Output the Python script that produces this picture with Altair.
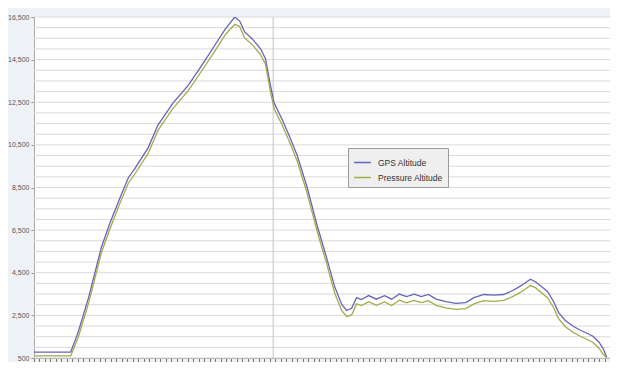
import altair as alt
import pandas as pd

# sample index along the flight
sample = [0, 6.7, 8.1, 10.0, 12.3, 13.9, 15.7, 17.2, 18.5, 20.8, 22.6, 25.3, 28.1, 30.8,
          32.9, 34.9, 36.6, 37.5, 38.4, 39.8, 41.3, 42.2, 43.1, 43.8, 45.3, 46.7, 48.0,
          49.8, 51.6, 53.4, 54.8, 56.1, 57.0, 57.9, 58.8, 59.7, 61.0, 62.4, 63.9, 65.2,
          66.6, 67.9, 69.3, 70.6, 71.9, 73.3, 75.1, 76.9, 78.7, 80.2, 82.0, 83.8, 85.6,
          86.9, 88.2, 89.2, 90.5, 91.4, 92.5, 93.6, 94.7, 95.6, 96.8, 98.3, 99.6, 100.8,
          101.9, 103.0, 103.7, 104.4]
gps_alt = [780, 780, 1750, 3380, 5710, 6870, 8030, 8960, 9430, 10360, 11430, 12450, 13290,
           14310, 15150, 15940, 16500, 16310, 15800, 15470, 15010, 14540, 13290, 12450,
           11660, 10820, 9990, 8500, 6730, 5150, 3850, 3010, 2730, 2830, 3330, 3240, 3430,
           3260, 3420, 3260, 3500, 3380, 3500, 3380, 3480, 3260, 3150, 3060, 3100, 3330,
           3480, 3450, 3480, 3620, 3800, 3960, 4200, 4080, 3850, 3620, 3150, 2640, 2270,
           1990, 1800, 1660, 1520, 1240, 965, 546]
pressure_alt = [600, 600, 1500, 3120, 5450, 6600, 7780, 8700, 9180, 10100, 11180, 12200,
                13030, 14060, 14880, 15680, 16160, 16050, 15520, 15200, 14730, 14280, 13000,
                12180, 11400, 10560, 9720, 8230, 6460, 4880, 3560, 2720, 2450, 2520, 3040,
                2960, 3140, 2970, 3130, 2960, 3210, 3090, 3200, 3100, 3190, 2970, 2850, 2780,
                2820, 3040, 3190, 3160, 3200, 3340, 3510, 3670, 3900, 3800, 3560, 3330, 2870,
                2360, 1980, 1700, 1520, 1380, 1230, 960, 700, 500]

series_names = ["GPS Altitude", "Pressure Altitude"]
series_colors = ["#6464b8", "#a2ac4a"]

y_ticks = [500, 2500, 4500, 6500, 8500, 10500, 12500, 14500, 16500]
grid_values = list(range(500, 16501, 500))
x_ticks = list(range(0, 106))
marker_sample = [43.6]

df = pd.DataFrame({"sample": sample, series_names[0]: gps_alt, series_names[1]: pressure_alt})
long = df.melt("sample", var_name="series", value_name="alt")

xs = alt.Scale(domain=[0, 105], nice=False, zero=False)
ys = alt.Scale(domain=[500, 16500], nice=False, zero=False)

x_axis = alt.Axis(values=x_ticks, labels=False, title=None, grid=False,
                  tickSize=4, tickColor="#777777", domainColor="#999999")
y_axis = alt.Axis(values=y_ticks, format=",.0f", title=None, grid=False,
                  tickSize=3, tickColor="#999999", domainColor="#aaaaaa",
                  labelFontSize=7, labelColor="#555555", labelFont="Arial",
                  labelPadding=2)

lines = alt.Chart(long).mark_line(strokeWidth=1.3, clip=True).encode(
    x=alt.X("sample:Q", scale=xs, axis=x_axis),
    y=alt.Y("alt:Q", scale=ys, axis=y_axis),
    color=alt.Color("series:N",
                    scale=alt.Scale(domain=series_names, range=series_colors),
                    legend=alt.Legend(title=None, orient="none", legendX=314, legendY=131,
                                      symbolType="stroke", symbolSize=280,
                                      symbolStrokeWidth=1.5, labelFontSize=8.5,
                                      labelColor="#333333", labelFont="Arial",
                                      labelOffset=6,
                                      fillColor="#efefef", strokeColor="#9a9a9a",
                                      padding=5, rowPadding=1, labelLimit=200)),
)

grid = alt.Chart(pd.DataFrame({"g": grid_values})).mark_rule(
    color="#dadada", strokeWidth=1
).encode(y=alt.Y("g:Q", scale=ys, axis=y_axis))

vline = alt.Chart(pd.DataFrame({"s": marker_sample})).mark_rule(
    color="#c4c4c4", strokeWidth=1
).encode(x=alt.X("s:Q", scale=xs, axis=x_axis))

chart = alt.layer(grid, vline, lines).properties(
    width=576, height=341,
    autosize=alt.AutoSizeParams(type="none"),
    padding={"left": 26, "top": 9, "right": 0, "bottom": 4},
    background="#eef2f7",
).configure_view(fill="white", stroke=None)

chart.save("out.html", embed_options={"renderer": "svg", "actions": False})
